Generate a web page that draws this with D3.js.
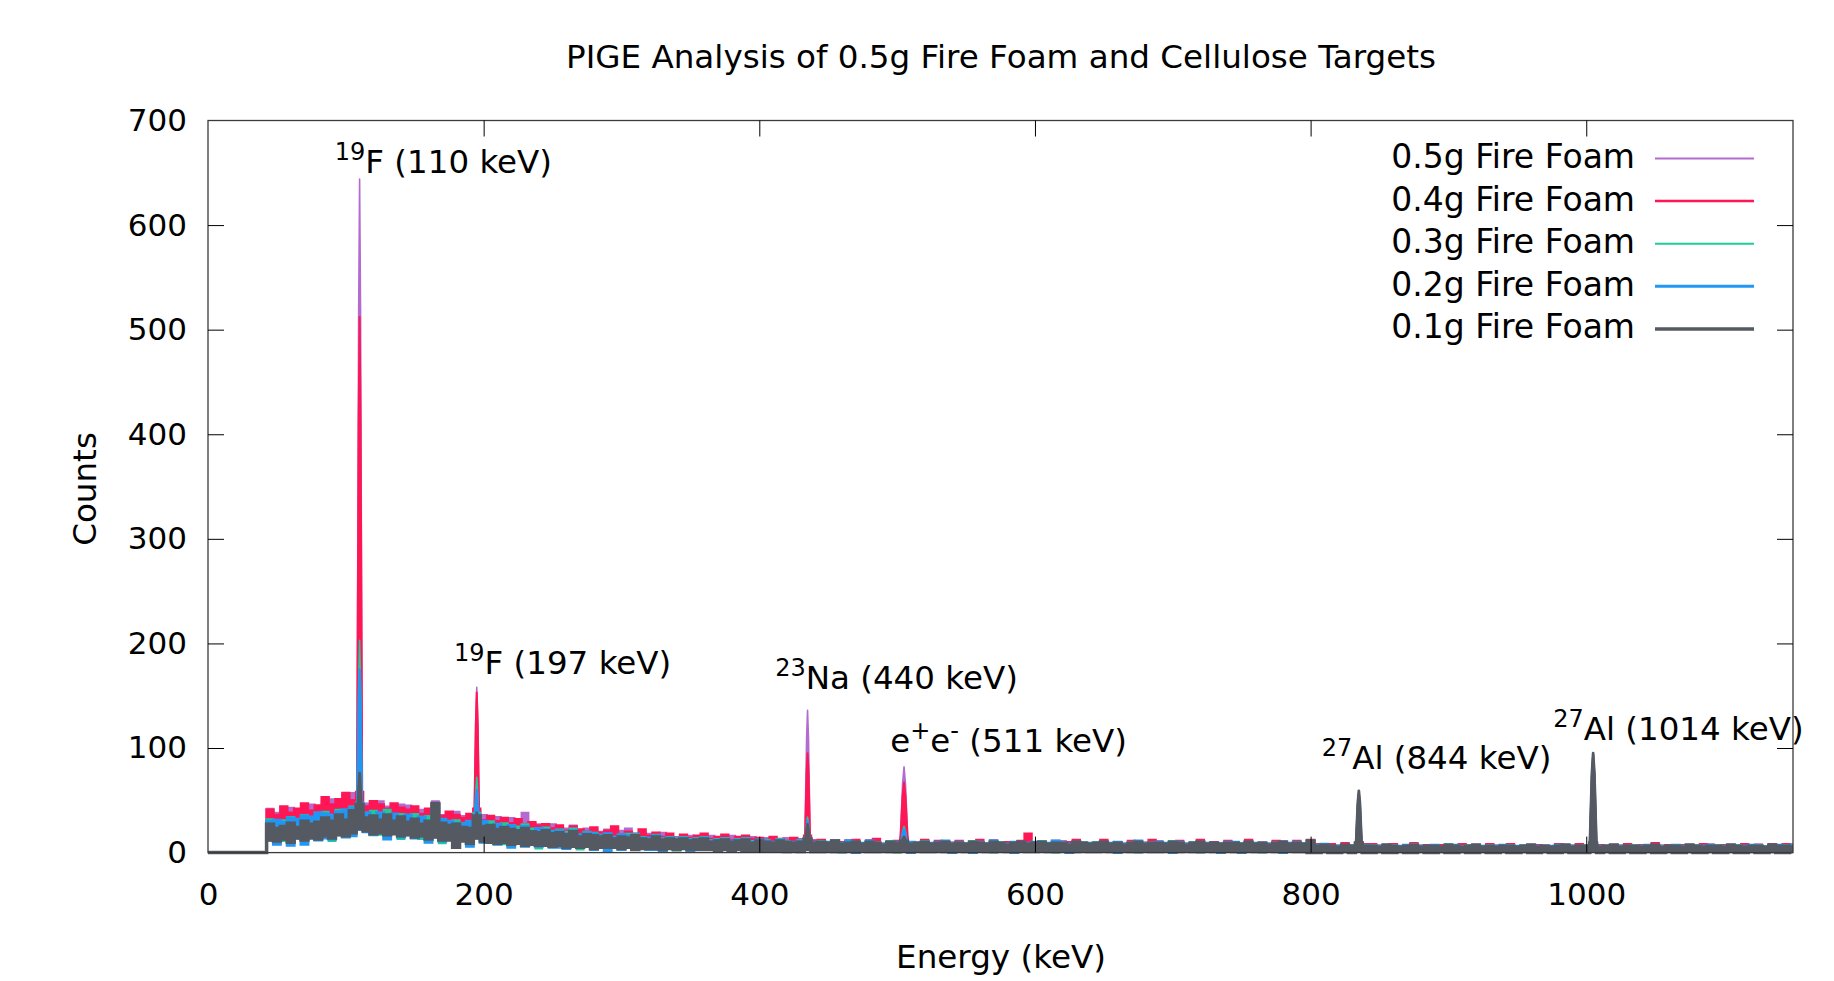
<!DOCTYPE html>
<html><head><meta charset="utf-8">
<script src="https://cdn.jsdelivr.net/npm/d3@7"></script>
<style>
html,body{margin:0;padding:0;background:#fff;}
svg{display:block;font-family:"DejaVu Sans",Verdana,sans-serif;}
</style></head><body>
<svg id="chart" width="1834" height="981"></svg>
<script>
// ---------------- data ----------------
const chartTitle = "PIGE Analysis of 0.5g Fire Foam and Cellulose Targets";
const xLabel = "Energy (keV)";
const yLabel = "Counts";
const xTicks = [0, 200, 400, 600, 800, 1000];
const yTicks = [0, 100, 200, 300, 400, 500, 600, 700];
const seriesNames = ["0.5g Fire Foam", "0.4g Fire Foam", "0.3g Fire Foam", "0.2g Fire Foam", "0.1g Fire Foam"];
const seriesColors = ["#b46bd0", "#ff1654", "#1ecb9c", "#2196f3", "#555961"];
const seriesWidths = [2, 2.5, 2, 3, 3.5];

// channel energies (keV): zero region, then 5 keV bins from 45 to 1150
const energy = [0, 40].concat(d3.range(45, 1151, 5));

// upper / lower envelope of the counts in each bin, per target
const hi05 = [0,0,
42,38,40,43,41,45,46,43,49,51,48,55,57,56,47,45,49,44,43,46,
45,39,41,38,49,36,34,39,35,33,40,36,32,34,30,33,31,38,28,27,
25,27,24,23,26,21,23,22,20,22,19,21,23,17,19,18,17,19,16,15,
16,16,15,14,16,14,13,16,13,14,15,12,14,13,12,14,12,13,15,12,
11,10,12,9,12,11,9,12,10,9,11,10,13,9,10,12,9,10,11,10,
10,9,11,10,9,12,10,9,10,11,9,10,11,9,10,11,9,11,10,9,
10,11,9,10,9,10,11,10,10,11,9,11,10,9,10,11,9,10,9,10,
10,9,11,9,10,9,10,11,9,10,9,12,7,8,7,7,8,7,10,7,
7,7,8,7,6,7,8,7,7,7,6,8,7,6,7,8,6,7,7,7,
7,6,7,8,7,7,6,7,8,7,7,7,10,6,7,8,7,7,7,6,
7,8,7,7,7,6,8,7,6,8,7,6,8,7,6,7,8,6,8,7,
7,8];
const lo05 = [0,0,
14,12,15,11,16,13,17,14,18,15,19,17,21,25,24,19,22,18,21,17,
19,16,18,14,17,13,15,7,14,10,16,12,13,10,12,9,11,8,10,8,
9,7,9,6,8,7,8,5,7,6,8,5,7,5,6,5,7,4,6,5,
6,4,6,5,5,4,6,4,5,4,5,3,5,4,4,3,4,3,5,3,
3,4,3,3,4,3,4,3,3,4,3,3,4,3,4,3,3,4,3,3,
4,3,3,4,3,3,4,3,3,4,3,3,4,3,3,4,3,3,4,3,
3,4,3,3,4,3,3,4,3,3,4,3,3,4,3,3,4,3,3,4,
3,3,4,3,3,4,3,3,4,3,3,2,2,3,2,2,3,2,4,2,
2,3,2,2,3,2,2,3,2,2,3,2,2,3,2,2,3,2,2,3,
2,2,3,2,2,3,2,2,3,2,2,2,4,2,3,2,2,3,2,2,
3,2,2,3,2,2,3,2,2,3,2,2,3,2,2,3,2,2,3,2,
2,3];
const hi04 = [0,0,
41,36,44,38,42,47,40,45,53,46,51,57,50,58,44,49,46,42,47,43,
41,44,37,42,45,35,39,36,33,37,42,31,35,30,33,28,32,27,29,26,
27,23,26,21,25,22,20,24,19,21,25,17,20,18,22,16,19,15,18,14,
17,14,16,18,13,15,17,12,15,16,13,14,12,15,13,11,14,12,16,11,
12,10,11,10,9,12,8,10,13,8,10,11,14,9,9,12,8,11,10,9,
11,8,10,12,8,10,9,10,9,11,18,9,10,8,11,9,10,12,9,8,
9,12,8,10,7,11,10,8,12,9,8,10,11,7,9,12,8,10,8,11,
10,8,12,8,9,8,11,10,9,11,8,12,8,7,8,5,9,6,10,8,
8,5,7,8,5,6,9,5,7,6,7,7,6,8,6,7,5,8,5,7,
8,5,6,7,7,6,5,8,7,5,8,6,10,7,6,7,5,8,6,7,
6,9,5,7,6,7,7,6,8,6,6,7,7,6,8,6,7,5,8,6,
8,6];
const lo04 = [0,0,
13,11,14,10,15,12,16,13,17,14,18,16,20,24,23,18,21,17,20,16,
18,15,17,13,16,12,14,6,13,9,15,11,12,9,11,8,10,7,9,7,
8,6,8,5,7,6,7,4,6,5,7,4,6,4,5,4,6,3,5,4,
5,3,5,4,4,3,5,3,4,3,4,2,4,3,3,2,3,2,4,2,
2,3,2,2,3,2,3,2,2,3,2,2,3,2,3,2,2,3,2,2,
3,2,2,3,2,2,3,2,2,3,2,2,3,2,2,3,2,2,3,2,
2,3,2,2,3,2,2,3,2,2,3,2,2,3,2,2,3,2,2,3,
2,2,3,2,2,3,2,2,3,2,2,1,1,2,1,1,2,1,3,1,
1,2,1,1,2,1,1,2,1,1,2,1,1,2,1,1,2,1,1,2,
1,1,2,1,1,2,1,1,2,1,1,1,3,1,2,1,1,2,1,1,
2,1,1,2,1,1,2,1,1,2,1,1,2,1,1,2,1,1,2,1,
1,2];
const hi03 = [0,0,
32,29,31,34,29,36,32,35,39,35,41,38,44,48,37,40,36,41,34,37,
34,37,31,35,44,32,30,31,28,27,38,29,30,26,28,25,25,27,23,22,
24,21,22,20,23,17,20,19,17,18,15,17,18,18,15,14,17,14,15,14,
15,13,14,15,12,13,14,11,13,14,11,12,12,10,13,11,10,12,14,10,
11,9,11,9,10,10,9,10,10,8,11,9,12,9,9,11,9,9,11,9,
9,9,11,9,9,10,10,8,10,10,9,9,11,9,9,10,8,10,10,9,
10,10,9,9,8,10,10,9,10,9,9,11,9,8,10,10,8,9,9,10,
9,9,10,9,9,8,10,10,9,9,9,11,7,7,6,6,7,7,9,7,
7,5,7,7,6,6,8,5,6,7,5,8,6,6,7,7,5,7,6,6,
7,5,7,7,6,6,5,7,7,6,6,7,9,6,6,7,6,6,7,5,
6,7,6,6,7,5,7,7,5,6,7,5,7,7,5,6,7,6,7,6,
7,6];
const lo03 = [0,0,
12,10,11,9,14,9,15,12,16,11,17,15,19,23,22,17,17,16,19,13,
17,14,13,12,15,9,13,5,12,8,14,10,11,8,8,7,9,6,8,4,
7,5,7,4,6,3,6,3,5,4,6,3,5,3,4,3,5,2,4,2,
4,2,4,3,3,2,4,2,3,2,3,1,3,2,2,1,2,1,3,1,
1,2,1,0,2,1,2,1,1,2,1,0,2,1,2,1,1,2,1,1,
2,1,1,2,1,0,2,1,1,2,1,1,2,1,0,2,1,1,2,1,
1,2,1,1,2,1,0,2,1,1,2,1,1,2,1,0,2,1,1,2,
1,1,2,1,0,2,1,1,2,1,1,0,0,1,0,0,1,0,2,0,
0,1,0,0,1,0,0,1,0,0,1,0,0,1,0,0,1,0,0,1,
0,0,1,0,0,1,0,0,1,0,0,0,2,0,1,0,0,1,0,0,
1,0,0,1,0,0,1,0,0,1,0,0,1,0,0,1,0,0,1,0,
0,1];
const hi02 = [0,0,
30,31,29,33,32,35,34,38,37,36,39,41,43,47,38,35,38,34,37,32,
36,31,34,29,46,32,30,28,27,30,36,30,25,27,23,26,21,25,20,23,
22,20,21,18,21,17,19,18,16,18,15,17,16,17,14,14,16,13,14,13,
14,12,13,14,11,12,13,11,12,13,10,12,11,10,12,10,10,11,13,10,
10,10,11,9,11,10,9,11,9,8,10,10,11,10,9,10,9,10,11,8,
10,8,10,10,8,11,9,8,10,10,9,10,10,9,11,9,8,10,9,9,
9,10,9,10,8,9,11,8,9,10,9,10,10,8,9,10,9,9,8,10,
10,8,10,9,9,8,9,10,9,10,8,11,7,8,6,6,7,6,9,7,
6,6,7,6,6,7,7,6,6,7,5,7,7,5,6,7,6,6,6,7,
6,6,6,7,6,6,6,7,7,6,6,6,9,6,6,7,6,6,6,6,
7,7,5,6,7,6,7,6,6,7,6,6,7,6,6,7,6,5,7,7,
6,7];
const lo02 = [0,0,
12,8,13,7,14,8,15,12,14,13,17,15,16,22,20,17,20,13,19,15,
17,14,16,10,15,11,13,5,12,6,14,10,11,8,10,5,9,6,8,6,
7,5,5,4,6,5,6,3,5,2,6,3,5,3,4,3,3,2,4,3,
4,2,4,3,3,1,4,2,3,2,3,1,3,2,2,1,2,1,3,1,
1,2,1,1,2,0,2,1,1,2,1,1,2,0,2,1,1,2,1,0,
2,1,0,2,1,1,2,1,0,2,1,1,2,1,1,2,0,1,2,1,
1,2,1,0,2,1,1,2,1,1,2,0,1,2,1,1,2,1,0,2,
1,0,2,1,1,2,1,0,2,1,1,0,0,1,0,0,1,0,2,0,
0,1,0,0,1,0,0,1,0,0,1,0,0,1,0,0,1,0,0,1,
0,0,1,0,0,1,0,0,1,0,0,0,2,0,1,0,0,1,0,0,
1,0,0,1,0,0,1,0,0,1,0,0,1,0,0,1,0,0,1,0,
0,1];
const hi01 = [0,0,
27,23,25,28,24,30,27,29,33,30,36,31,40,46,33,35,31,36,30,34,
29,32,27,30,47,28,26,27,24,23,35,25,26,22,24,22,21,23,20,19,
21,18,19,17,20,15,17,16,15,16,13,15,14,16,13,12,15,12,13,12,
13,11,12,13,10,11,12,10,11,12,9,11,10,9,11,10,9,10,13,9,
10,9,11,8,9,10,8,10,9,7,10,9,11,8,9,10,8,9,10,8,
9,8,10,9,8,10,9,7,9,10,8,9,10,8,9,9,7,10,9,8,
9,10,8,9,7,9,10,8,9,9,8,10,9,7,9,10,8,9,8,9,
9,8,10,8,9,7,9,10,8,9,8,11,6,7,6,5,7,6,9,6,
6,5,7,6,5,6,7,5,6,6,5,7,6,5,6,7,5,6,5,6,
6,5,6,7,5,6,5,6,7,5,6,6,9,5,6,7,5,6,6,5,
6,7,5,6,6,5,7,6,5,6,6,5,7,6,5,6,6,5,7,6,
6,5];
const lo01 = [0,0,
12,11,13,10,14,12,14,13,16,14,17,16,19,23,21,18,19,17,18,16,
17,15,16,13,15,12,12,5,11,9,14,11,10,9,10,8,9,7,8,7,
7,6,7,5,6,5,6,4,5,5,5,4,5,3,4,4,4,3,4,3,
4,3,3,3,3,2,3,2,3,2,2,2,2,2,2,1,2,1,3,1,
1,2,1,1,2,1,2,1,1,2,1,1,2,1,2,1,1,2,1,1,
2,1,1,2,1,1,2,1,1,2,1,1,2,1,1,2,1,1,2,1,
1,2,1,1,2,1,1,2,1,1,2,1,1,2,1,1,2,1,1,2,
1,1,2,1,1,2,1,1,2,1,1,0,0,1,0,0,1,0,2,0,
0,1,0,0,1,0,0,1,0,0,1,0,0,1,0,0,1,0,0,1,
0,0,1,0,0,1,0,0,1,0,0,0,2,0,1,0,0,1,0,0,
1,0,0,1,0,0,1,0,0,1,0,0,1,0,0,1,0,0,1,0,
0,1];

// peaks: energy (keV), half base width (keV), peak counts per target
const peakEnergy = [110, 195, 435, 505, 835, 1005];
const peakHalfWidth = [2, 2, 2, 3, 2.2, 2.5];
const peak05 = [644, 158, 136, 82, 58, 92];
const peak04 = [512, 153, 95, 67, 57, 94];
const peak03 = [203, 72, 34, 25, 56, 90];
const peak02 = [175, 60, 30, 22, 55, 91];
const peak01 = [76, 38, 27, 15, 59, 95];

// peak annotations: parts [text, isSuperscript], data position
const annoParts = [
  [["19", 1], ["F (110 keV)", 0]],
  [["19", 1], ["F (197 keV)", 0]],
  [["23", 1], ["Na (440 keV)", 0]],
  [["e", 0], ["+", 1], ["e", 0], ["-", 1], [" (511 keV)", 0]],
  [["27", 1], ["Al (844 keV)", 0]],
  [["27", 1], ["Al (1014 keV)", 0]]
];
const annoX = [92, 178.5, 411.5, 495, 808, 976];
const annoY = [650, 171, 156, 96, 80, 108];

// ---------------- drawing ----------------
const svg = d3.select("#chart");
const W = 1834, H = 981;
const plot = {left: 208, right: 1793, top: 120.5, bottom: 852.6};
const x = d3.scaleLinear().domain([0, 1150]).range([plot.left, plot.right]);
const y = d3.scaleLinear().domain([0, 700]).range([plot.bottom, plot.top]);
const FONT = '"DejaVu Sans", Verdana, sans-serif';

svg.append("rect").attr("width", W).attr("height", H).attr("fill", "#fff");

svg.append("defs").append("clipPath").attr("id", "clip")
  .append("rect").attr("x", plot.left).attr("y", plot.top - 2)
  .attr("width", plot.right - plot.left).attr("height", plot.bottom - plot.top + 6);

const his = [hi05, hi04, hi03, hi02, hi01];
const los = [lo05, lo04, lo03, lo02, lo01];
const peaks = [peak05, peak04, peak03, peak02, peak01];

const dataArea = svg.append("g").attr("clip-path", "url(#clip)");
const area = d3.area()
  .x(d => x(d.e)).y0(d => y(d.lo)).y1(d => y(d.hi))
  .curve(d3.curveStep);
const peakLine = d3.line().x(d => x(d[0])).y(d => y(d[1]));

seriesNames.forEach((name, s) => {
  const n = Math.min(energy.length, his[s].length, los[s].length);
  const rows = [];
  for (let i = 0; i < n; i++) rows.push({e: energy[i], hi: his[s][i], lo: Math.min(los[s][i], his[s][i])});
  const g = dataArea.append("g");
  g.append("path").datum(rows)
    .attr("d", area)
    .attr("fill", seriesColors[s])
    .attr("stroke", seriesColors[s])
    .attr("stroke-width", seriesWidths[s])
    .attr("stroke-linejoin", "miter");
  peakEnergy.forEach((pe, k) => {
    const idx = energy.indexOf(pe);
    const base = idx >= 0 ? los[s][idx] : 0;
    const w = peakHalfWidth[k];
    const h = peaks[s][k];
    const pts = [[pe - w, base], [pe - w * 0.35, h * 0.8], [pe, h], [pe + w * 0.35, h * 0.8], [pe + w, base]];
    g.append("path").datum(pts)
      .attr("d", peakLine)
      .attr("fill", seriesColors[s])
      .attr("stroke", seriesColors[s])
      .attr("stroke-width", seriesWidths[s] * 0.8)
      .attr("stroke-linejoin", "round");
  });
});

// border
svg.append("rect")
  .attr("x", plot.left).attr("y", plot.top)
  .attr("width", plot.right - plot.left).attr("height", plot.bottom - plot.top)
  .attr("fill", "none").attr("stroke", "#3a3a3a").attr("stroke-width", 1.3);

// axes with inward ticks (mirrored)
const fontTick = 31;
const gB = svg.append("g").attr("transform", `translate(0,${plot.bottom})`)
  .call(d3.axisBottom(x).tickValues(xTicks).tickFormat(d3.format("d")).tickSizeInner(-16).tickSizeOuter(0).tickPadding(30));
const gT = svg.append("g").attr("transform", `translate(0,${plot.top})`)
  .call(d3.axisTop(x).tickValues(xTicks).tickFormat("").tickSizeInner(-16).tickSizeOuter(0));
const gL = svg.append("g").attr("transform", `translate(${plot.left},0)`)
  .call(d3.axisLeft(y).tickValues(yTicks).tickFormat(d3.format("d")).tickSizeInner(-16).tickSizeOuter(0).tickPadding(21));
const gR = svg.append("g").attr("transform", `translate(${plot.right},0)`)
  .call(d3.axisRight(y).tickValues(yTicks).tickFormat("").tickSizeInner(-16).tickSizeOuter(0));
[gB, gT, gL, gR].forEach(g => {
  g.select(".domain").remove();
  g.selectAll(".tick line").attr("stroke", "#000").attr("stroke-width", 1);
  g.selectAll(".tick text").attr("font-size", fontTick).attr("fill", "#000").attr("font-family", FONT);
});
gB.selectAll(".tick").filter(d => d === 0).select("line").remove();
gT.selectAll(".tick").filter(d => d === 0).select("line").remove();
gL.selectAll(".tick").filter(d => d === 0 || d === 700).select("line").remove();
gR.selectAll(".tick").filter(d => d === 0 || d === 700).select("line").remove();

// title and axis labels
svg.append("text").attr("x", 1001).attr("y", 68).attr("text-anchor", "middle")
  .attr("font-size", 32.6).attr("fill", "#000").text(chartTitle);
svg.append("text").attr("x", 1001).attr("y", 968).attr("text-anchor", "middle")
  .attr("font-size", 32.6).attr("fill", "#000").text(xLabel);
svg.append("text").attr("transform", "translate(96,489) rotate(-90)").attr("text-anchor", "middle")
  .attr("font-size", 32.6).attr("fill", "#000").text(yLabel);

// annotations
annoParts.forEach((parts, i) => {
  const t = svg.append("text").attr("x", x(annoX[i])).attr("y", y(annoY[i]))
    .attr("font-size", 32.5).attr("fill", "#000");
  let raised = false;
  parts.forEach(([txt, sup]) => {
    const ts = t.append("tspan").text(txt);
    if (sup && !raised) { ts.attr("dy", -13); raised = true; }
    else if (!sup && raised) { ts.attr("dy", 13); raised = false; }
    ts.attr("font-size", sup ? 24 : 32.5);
  });
});

// legend
const legend = svg.append("g");
seriesNames.forEach((name, s) => {
  const by = 168 + s * 42.6;
  legend.append("text").attr("x", 1635).attr("y", by).attr("text-anchor", "end")
    .attr("font-size", 33).attr("fill", "#000").text(name);
  legend.append("line").attr("x1", 1655).attr("x2", 1754)
    .attr("y1", by - 9.5).attr("y2", by - 9.5)
    .attr("stroke", seriesColors[s]).attr("stroke-width", seriesWidths[s]);
});
</script>
</body></html>
